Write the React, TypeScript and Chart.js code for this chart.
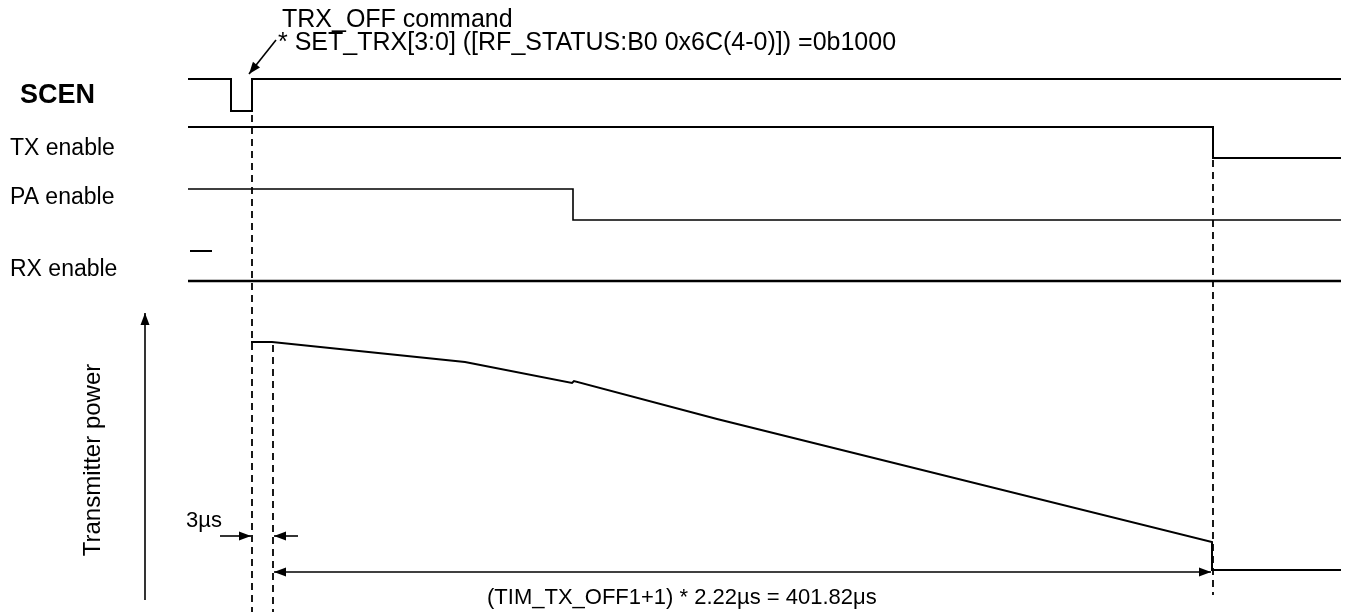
import React, { useEffect, useRef } from "react";
import { Chart, registerables } from "chart.js";

Chart.register(...registerables);

const W = 1349;
const H = 612;

// Diagram coordinates: x = time axis units, y = vertical lane units (0 at top)
const scenX = [188, 231, 231, 252, 252, 1341];
const scenY = [79, 79, 111, 111, 79, 79];
const txX = [188, 1213, 1213, 1341];
const txY = [127, 127, 158, 158];
const paX = [188, 573, 573, 1341];
const paY = [189, 189, 220, 220];
const rxMarkX = [190, 212];
const rxMarkY = [251, 251];
const rxX = [188, 1341];
const rxY = [281, 281];
const powerX = [251, 272, 465, 572, 574, 717, 1212, 1212, 1341];
const powerY = [342, 342, 362, 383, 381, 419, 542, 570, 570];

// dashed timing markers
const markerX = [252, 273, 1213];
const markerTop = [115, 345, 160];
const markerBottom = [612, 612, 595];

// arrows: from -> to
const arrowFromX = [276, 220, 298, 274, 145];
const arrowFromY = [40, 536, 536, 572, 600];
const arrowToX = [249, 251, 274, 1211, 145];
const arrowToY = [74, 536, 536, 572, 313];
const arrowBoth = [false, false, false, true, false];

// labels
const laneLabels = ["SCEN", "TX enable", "PA enable", "RX enable"];
const laneBaselines = [103, 155, 204, 276];
const topLines = ["TRX_OFF command", "* SET_TRX[3:0] ([RF_STATUS:B0 0x6C(4-0)]) =0b1000"];
const durationLabel = "(TIM_TX_OFF1+1) * 2.22\u00b5s = 401.82\u03bcs";
const shortLabel = "3\u00b5s";
const axisLabel = "Transmitter power";

const pts = (xs: number[], ys: number[]) => xs.map((x, i) => ({ x, y: ys[i] }));

const FONT = "'Liberation Sans', Arial, sans-serif";

const arrowPlugin = {
  id: "arrowHeads",
  afterDatasetsDraw(chart: any) {
    const ctx = chart.ctx;
    chart.data.datasets.forEach((ds: any, i: number) => {
      if (!ds.heads) return;
      const p = chart.getDatasetMeta(i).data;
      const draw = (tip: any, from: any) => {
        const ang = Math.atan2(tip.y - from.y, tip.x - from.x);
        const L = 12;
        const Wd = 4.5;
        ctx.save();
        ctx.translate(tip.x, tip.y);
        ctx.rotate(ang);
        ctx.beginPath();
        ctx.moveTo(0, 0);
        ctx.lineTo(-L, -Wd);
        ctx.lineTo(-L, Wd);
        ctx.closePath();
        ctx.fillStyle = "#000";
        ctx.fill();
        ctx.restore();
      };
      if (ds.heads === "end" || ds.heads === "both") draw(p[p.length - 1], p[p.length - 2]);
      if (ds.heads === "both") draw(p[0], p[1]);
    });
  },
};

const textPlugin = {
  id: "diagramText",
  afterDraw(chart: any) {
    const ctx = chart.ctx;
    const xs = chart.scales.x;
    const ys = chart.scales.y;
    ctx.save();
    ctx.fillStyle = "#000";
    ctx.textBaseline = "alphabetic";
    ctx.textAlign = "left";
    laneLabels.forEach((t, i) => {
      ctx.font = i === 0 ? `bold 27px ${FONT}` : `23px ${FONT}`;
      ctx.fillText(t, xs.getPixelForValue(i === 0 ? 20 : 10), ys.getPixelForValue(laneBaselines[i]));
    });
    ctx.font = `25px ${FONT}`;
    ctx.fillText(topLines[0], xs.getPixelForValue(282), ys.getPixelForValue(27));
    ctx.fillText(topLines[1], xs.getPixelForValue(278), ys.getPixelForValue(50));
    ctx.font = `22px ${FONT}`;
    ctx.fillText(shortLabel, xs.getPixelForValue(186), ys.getPixelForValue(527));
    ctx.fillText(durationLabel, xs.getPixelForValue(487), ys.getPixelForValue(604));
    ctx.translate(xs.getPixelForValue(100), ys.getPixelForValue(460));
    ctx.rotate(-Math.PI / 2);
    ctx.textAlign = "center";
    ctx.font = `24px ${FONT}`;
    ctx.fillText(axisLabel, 0, 0);
    ctx.restore();
  },
};

export default function App() {
  const ref = useRef<HTMLCanvasElement | null>(null);
  useEffect(() => {
    if (!ref.current) return;
    const solid = (data: any[], width = 2) => ({
      data,
      borderColor: "#000",
      borderWidth: width,
      pointRadius: 0,
      fill: false,
      tension: 0,
      borderJoinStyle: "miter",
    });
    const datasets: any[] = [
      solid(pts(scenX, scenY)),
      solid(pts(txX, txY)),
      solid(pts(paX, paY), 1.6),
      solid(pts(rxMarkX, rxMarkY)),
      solid(pts(rxX, rxY), 2.4),
      solid(pts(powerX, powerY)),
    ];
    markerX.forEach((x, i) => {
      datasets.push({
        ...solid(pts([x, x], [markerTop[i], markerBottom[i]]), 1.8),
        borderDash: [7, 5],
      });
    });
    arrowFromX.forEach((x, i) => {
      datasets.push({
        ...solid(pts([x, arrowToX[i]], [arrowFromY[i], arrowToY[i]]), 1.6),
        heads: arrowBoth[i] ? "both" : "end",
      });
    });
    const chart = new Chart(ref.current, {
      type: "line",
      data: { datasets },
      options: {
        responsive: false,
        animation: false,
        devicePixelRatio: 1,
        events: [],
        layout: { padding: 0 },
        plugins: { legend: { display: false }, tooltip: { enabled: false } },
        scales: {
          x: { type: "linear", min: 0, max: W, display: false },
          y: { type: "linear", min: 0, max: H, reverse: true, display: false },
        },
      } as any,
      plugins: [arrowPlugin, textPlugin],
    });
    return () => chart.destroy();
  }, []);
  return (
    <div style={{ position: "absolute", left: 0, top: 0, width: W, height: H, background: "#fff" }}>
      <canvas ref={ref} width={W} height={H} style={{ width: W, height: H, display: "block" }} />
    </div>
  );
}
